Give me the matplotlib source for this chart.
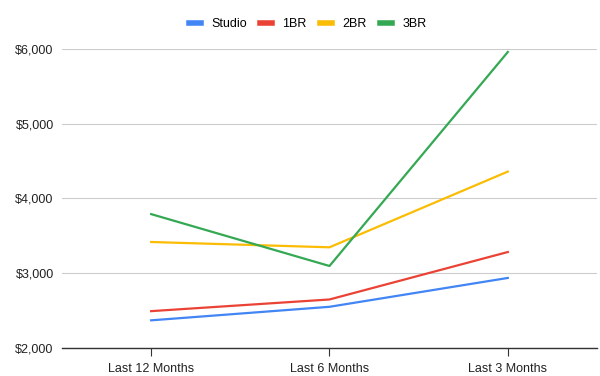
import matplotlib
matplotlib.use("Agg")
import matplotlib.pyplot as plt
from matplotlib.ticker import FuncFormatter

plt.rcParams['font.family'] = ['Liberation Sans', 'DejaVu Sans']

periods = ["Last 12 Months", "Last 6 Months", "Last 3 Months"]
studio = [2370, 2551, 2937]
one_br = [2493, 2649, 3284]
two_br = [3418, 3347, 4360]
three_br = [3791, 3097, 5960]

names = ["Studio", "1BR", "2BR", "3BR"]
colors = ["#4285F4", "#EA4335", "#FBBC04", "#34A853"]

fig = plt.figure(figsize=(6, 3.76), dpi=100)
ax = fig.add_axes([0.1033, 0.0745, 0.8917, 0.7952])

x = list(range(len(periods)))
for name, vals, c in zip(names, [studio, one_br, two_br, three_br], colors):
    ax.plot(x, vals, color=c, lw=1.6, label=name)

ax.set_xlim(-0.5, 2.5)
ax.set_ylim(2000, 6000)
ax.set_yticks([2000, 3000, 4000, 5000, 6000])
ax.yaxis.set_major_formatter(FuncFormatter(lambda v, p: "${:,.0f}".format(v)))
ax.set_xticks(x)
ax.set_xticklabels(periods)
ax.grid(axis='y', color='#cccccc', lw=0.8)
ax.set_axisbelow(True)
for s in ['top', 'right', 'left']:
    ax.spines[s].set_visible(False)
ax.spines['bottom'].set_color('#333333')
ax.spines['bottom'].set_linewidth(1)
ax.tick_params(axis='y', length=0, labelsize=9, colors='#222222', pad=6)
ax.tick_params(axis='x', length=6, color='#333333', labelsize=9, colors='#222222', pad=5)

leg = fig.legend(loc='center', bbox_to_anchor=(0.5125, 1 - 24 / 376), ncol=4, frameon=False,
                 fontsize=9, handlelength=1.0, handletextpad=0.8, columnspacing=1.05)
for h in leg.get_lines():
    h.set_linewidth(4)

fig.savefig("out.png", dpi=100)
